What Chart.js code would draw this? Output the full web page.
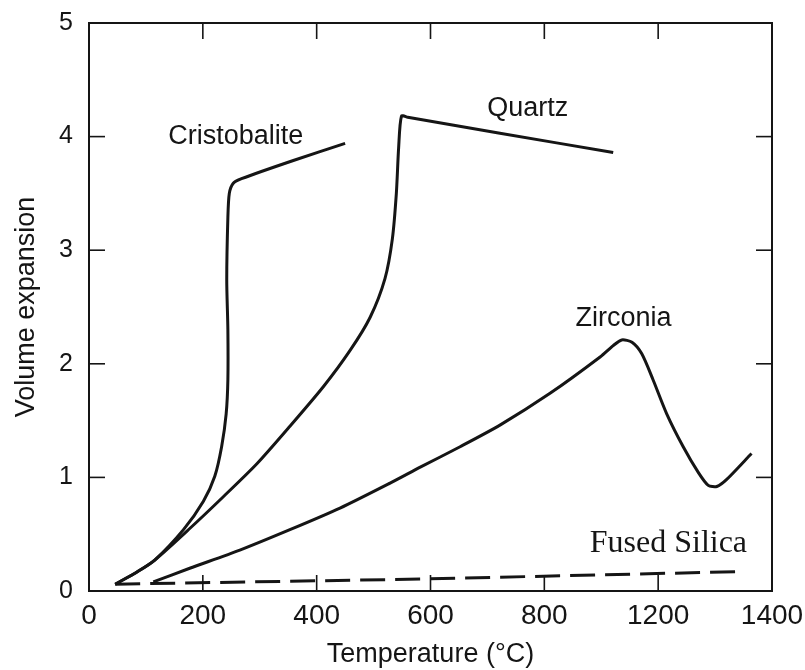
<!DOCTYPE html>
<html><head><meta charset="utf-8">
<script src="https://cdn.jsdelivr.net/npm/chart.js@4.4.0/dist/chart.umd.min.js"></script>
<style>html,body{margin:0;padding:0;background:#fff;}canvas{display:block;}</style>
</head><body>
<canvas id="c" width="805" height="670"></canvas>
<script>
// ---- data (x in axis position units, y = volume expansion) ----
const xTickLabels = ['0', '200', '400', '600', '800', '1200', '1400'];

const cristobaliteX = [46, 85, 115, 166, 201, 221, 233, 241, 244, 244, 242, 244, 246.5, 253.5, 268, 359, 450];
const cristobaliteY = [0.06, 0.17, 0.27, 0.54, 0.79, 1.01, 1.27, 1.56, 1.86, 2.30, 2.74, 3.29, 3.50, 3.59, 3.63, 3.79, 3.94];

const quartzX = [46, 85, 115, 177, 236, 295, 353, 412, 459, 494, 520, 533, 540, 544, 549, 560, 722, 921];
const quartzY = [0.06, 0.17, 0.27, 0.55, 0.83, 1.12, 1.45, 1.80, 2.12, 2.41, 2.75, 3.10, 3.50, 3.90, 4.18, 4.17, 4.03, 3.86];

const zirconiaX = [113, 177, 265, 353, 441, 529, 582, 652, 722, 810, 898, 921, 936, 954, 971, 991, 1015, 1044, 1071, 1088, 1103, 1120, 1164];
const zirconiaY = [0.08, 0.20, 0.36, 0.54, 0.73, 0.95, 1.09, 1.27, 1.46, 1.74, 2.06, 2.16, 2.21, 2.19, 2.09, 1.86, 1.56, 1.27, 1.04, 0.93, 0.92, 0.98, 1.21];

const fusedSilicaX = [46, 582, 1138];
const fusedSilicaY = [0.06, 0.105, 0.17];

const curveNames = ['Cristobalite', 'Quartz', 'Zirconia', 'Fused Silica'];
const curveLabelX = [258, 771, 939, 1018];
const curveLabelY = [4.0, 4.25, 2.40, 0.42];

// ---- chart ----
const INK = '#151515';
const pts = (xs, ys) => xs.map((x, i) => ({x: x, y: ys[i]}));

const framePlugin = {
  id: 'frame',
  afterDatasetsDraw(chart) {
    const {ctx, chartArea: a, scales: {x, y}} = chart;
    ctx.save();
    ctx.strokeStyle = INK;
    ctx.lineWidth = 2;
    ctx.strokeRect(a.left, a.top, a.right - a.left, a.bottom - a.top);
    ctx.lineWidth = 1.6;
    const L = 16;
    const seg = (x1, y1, x2, y2) => { ctx.beginPath(); ctx.moveTo(x1, y1); ctx.lineTo(x2, y2); ctx.stroke(); };
    x.ticks.forEach(t => {
      const px = x.getPixelForValue(t.value);
      if (px <= a.left + 1 || px >= a.right - 1) return;
      seg(px, a.bottom, px, a.bottom - L);
      seg(px, a.top, px, a.top + L);
    });
    y.ticks.forEach(t => {
      const py = y.getPixelForValue(t.value);
      if (py <= a.top + 1 || py >= a.bottom - 1) return;
      seg(a.left, py, a.left + L, py);
      seg(a.right, py, a.right - L, py);
    });
    // curve names
    ctx.fillStyle = INK;
    ctx.textAlign = 'center';
    ctx.textBaseline = 'middle';
    curveNames.forEach((name, i) => {
      ctx.font = name === 'Fused Silica' ? '32px "Liberation Serif", serif' : '27px "Liberation Sans", Arial, sans-serif';
      ctx.fillText(name, x.getPixelForValue(curveLabelX[i]), y.getPixelForValue(curveLabelY[i]));
    });
    ctx.restore();
  }
};

const lineStyle = {borderColor: INK, backgroundColor: INK, borderWidth: 3, pointRadius: 0, tension: 0.25, fill: false};

new Chart(document.getElementById('c'), {
  type: 'line',
  data: {
    datasets: [
      Object.assign({label: curveNames[0], data: pts(cristobaliteX, cristobaliteY)}, lineStyle),
      Object.assign({label: curveNames[1], data: pts(quartzX, quartzY)}, lineStyle),
      Object.assign({label: curveNames[2], data: pts(zirconiaX, zirconiaY)}, lineStyle),
      Object.assign({label: curveNames[3], data: pts(fusedSilicaX, fusedSilicaY), borderDash: [25, 10], borderCapStyle: 'butt'}, lineStyle, {tension: 0})
    ]
  },
  options: {
    responsive: false,
    animation: false,
    layout: {padding: {top: 23, right: 33, left: 0, bottom: 0}},
    plugins: {legend: {display: false}, tooltip: {enabled: false}},
    scales: {
      x: {
        type: 'linear', min: 0, max: 1200,
        grid: {display: false, drawTicks: false},
        border: {display: false},
        afterFit(s) { s.height = 79; s.paddingLeft = 0; s.paddingRight = 0; },
        ticks: {
          stepSize: 200, padding: 8, color: INK,
          font: {family: '"Liberation Sans", Arial, sans-serif', size: 28},
          maxRotation: 0, autoSkip: false,
          callback: (v, i) => xTickLabels[i]
        },
        title: {display: true, text: 'Temperature (°C)', color: INK,
          font: {family: '"Liberation Sans", Arial, sans-serif', size: 27, lineHeight: 1},
          padding: {top: 0, bottom: 2}}
      },
      y: {
        type: 'linear', min: 0, max: 5,
        grid: {display: false, drawTicks: false},
        border: {display: false},
        afterFit(s) { s.width = 89; s.paddingTop = 0; s.paddingBottom = 0; },
        ticks: {stepSize: 1, padding: 16, color: INK,
          font: {family: '"Liberation Sans", Arial, sans-serif', size: 25}},
        title: {display: true, text: 'Volume expansion', color: INK,
          font: {family: '"Liberation Sans", Arial, sans-serif', size: 27, lineHeight: 1},
          padding: {top: 13, bottom: 0}}
      }
    }
  },
  plugins: [framePlugin]
});
</script>
</body></html>
